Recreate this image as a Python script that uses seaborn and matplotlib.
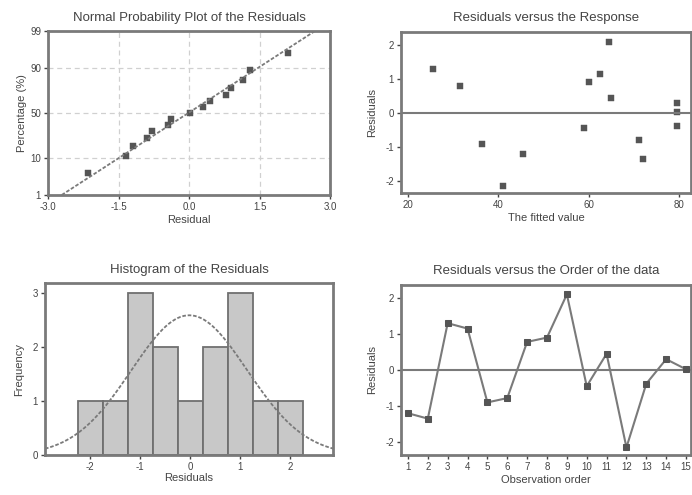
import numpy as np
import pandas as pd
import matplotlib
matplotlib.use("Agg")
import matplotlib.pyplot as plt
import seaborn as sns
from statistics import NormalDist

# Residuals in observation order, and the fitted values they belong to
obs_order = list(range(1, 16))
residuals = [-1.2, -1.35, 1.3, 1.15, -0.9, -0.78, 0.78, 0.9, 2.1, -0.45, 0.45, -2.15, -0.38, 0.3, 0.02]
fitted = [45.5, 72.0, 25.5, 62.5, 36.5, 71.0, 31.5, 60.0, 64.5, 59.0, 65.0, 41.0, 79.5, 79.5, 79.5]

prob_ticks = [1, 10, 50, 90, 99]
prob_xticks = [-3.0, -1.5, 0.0, 1.5, 3.0]
hist_edges = [-2.25, -1.75, -1.25, -0.75, -0.25, 0.25, 0.75, 1.25, 1.75, 2.25]

df = pd.DataFrame({"order": obs_order, "resid": residuals, "fit": fitted})

sns.set_style("white")
plt.rcParams['font.family'] = ['Liberation Sans', 'DejaVu Sans']
plt.rcParams['axes.unicode_minus'] = False

GRAY = "#7a7a7a"
DARK = "#555555"
nd = NormalDist()

fig = plt.figure(figsize=(6.92, 4.95), dpi=100)
W, H = 692, 495


def add_ax(l, t, r, b):
    return fig.add_axes([l / W, 1 - b / H, (r - l) / W, (b - t) / H])


def style(ax):
    for s in ax.spines.values():
        s.set_color(GRAY)
        s.set_linewidth(2)
    ax.tick_params(axis="both", labelsize=7, colors="#444444", length=3, width=1,
                   direction="out", left=True, bottom=True, pad=2)
    ax.xaxis.label.set_size(8)
    ax.yaxis.label.set_size(8)
    ax.xaxis.label.set_color("#444444")
    ax.yaxis.label.set_color("#444444")
    ax.title.set_size(9.5)
    ax.title.set_color("#444444")


# --- Normal probability plot ---
ax1 = add_ax(48, 31, 330, 195)
n = len(residuals)
sorted_res = np.sort(residuals)
ranks = (np.arange(1, n + 1) - 0.3) / (n + 0.4)
z = [nd.inv_cdf(p) for p in ranks]
mu, sd = np.mean(residuals), np.std(residuals, ddof=1)
zline = np.linspace(nd.inv_cdf(0.005), nd.inv_cdf(0.995), 50)
ax1.plot(mu + sd * zline, zline, color=GRAY, lw=1.3, ls=(0, (2, 1)))
sns.scatterplot(x=sorted_res, y=z, ax=ax1, marker="s", s=16, color=DARK, edgecolor=DARK)
ax1.set_xlim(-3, 3)
ax1.set_ylim(nd.inv_cdf(0.01), nd.inv_cdf(0.99))
ax1.set_xticks(prob_xticks)
ax1.set_xticklabels([f"{v:.1f}" for v in prob_xticks])
ax1.set_yticks([nd.inv_cdf(p / 100) for p in prob_ticks])
ax1.set_yticklabels([str(p) for p in prob_ticks])
ax1.grid(True, color="#d0d0d0", ls=(0, (4, 3)), lw=0.9)
ax1.set_title("Normal Probability Plot of the Residuals", pad=7)
ax1.set_xlabel("Residual", labelpad=2)
ax1.set_ylabel("Percentage (%)", labelpad=2)
style(ax1)

# --- Residuals versus fitted ---
ax2 = add_ax(401, 32, 691, 193)
ax2.axhline(0, color=GRAY, lw=1.5)
sns.scatterplot(data=df, x="fit", y="resid", ax=ax2, marker="s", s=16, color=DARK, edgecolor=DARK)
ax2.set_xlim(18.5, 82.6)
ax2.set_ylim(-2.35, 2.38)
ax2.set_xticks([20, 40, 60, 80])
ax2.set_yticks([-2, -1, 0, 1, 2])
ax2.set_title("Residuals versus the Response", pad=8)
ax2.set_xlabel("The fitted value", labelpad=2)
ax2.set_ylabel("Residuals", labelpad=6)
style(ax2)

# --- Histogram ---
ax3 = add_ax(45, 283, 333, 455)
sns.histplot(x=residuals, bins=hist_edges, ax=ax3, color="#c8c8c8", edgecolor="#707070",
             linewidth=1.3, alpha=1)
xs = np.linspace(-2.9, 2.9, 200)
pdf = np.array([NormalDist(mu, sd).pdf(v) for v in xs]) * n * 0.5
ax3.plot(xs, pdf, color=GRAY, lw=1.3, ls=(0, (2, 1)))
ax3.set_xlim(-2.9, 2.86)
ax3.set_ylim(0, 3.18)
ax3.set_xticks([-2, -1, 0, 1, 2])
ax3.set_yticks([0, 1, 2, 3])
ax3.set_title("Histogram of the Residuals", pad=7)
ax3.set_xlabel("Residuals", labelpad=1)
ax3.set_ylabel("Frequency", labelpad=6)
style(ax3)

# --- Residuals versus order ---
ax4 = add_ax(401, 285, 691, 455)
ax4.axhline(0, color=GRAY, lw=1.5)
sns.lineplot(data=df, x="order", y="resid", ax=ax4, color=GRAY, lw=1.5,
             marker="s", markersize=4.5, markerfacecolor=DARK, markeredgecolor=DARK)
ax4.set_xlim(0.65, 15.25)
ax4.set_ylim(-2.36, 2.36)
ax4.set_xticks(obs_order)
ax4.set_yticks([-2, -1, 0, 1, 2])
ax4.set_title("Residuals versus the Order of the data", pad=8)
ax4.set_xlabel("Observation order", labelpad=2)
ax4.set_ylabel("Residuals", labelpad=6)
style(ax4)

fig.savefig("out.png", dpi=100, facecolor="white")
